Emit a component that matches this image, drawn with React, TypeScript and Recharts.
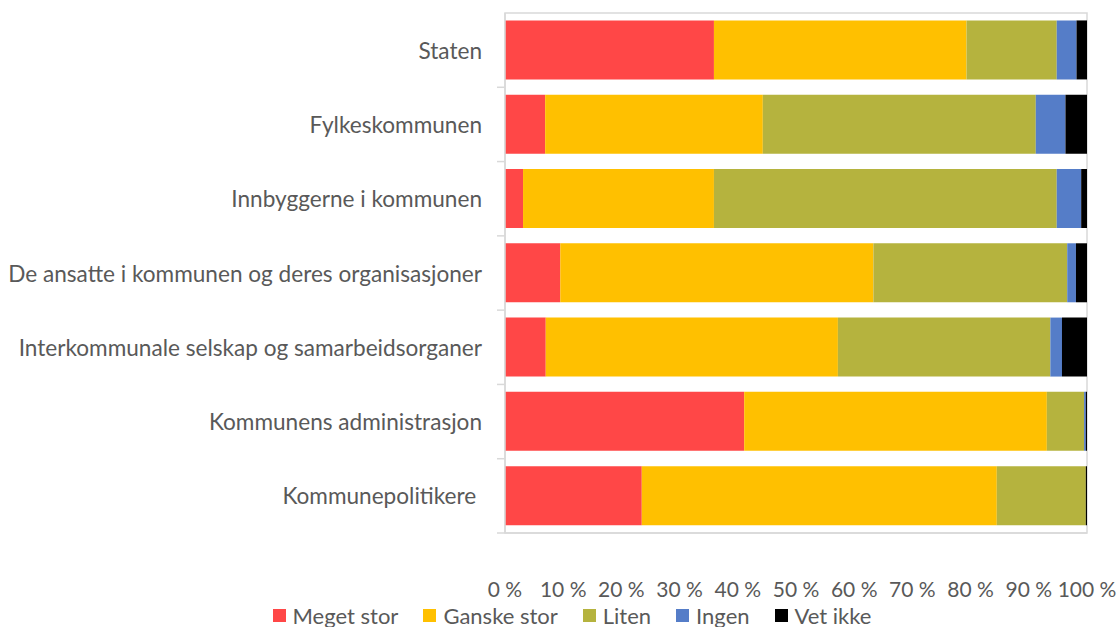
import React from 'react';
import {
  BarChart,
  Bar,
  XAxis,
  YAxis,
  Legend,
  ReferenceArea,
} from 'recharts';

document.body.style.margin = '0';

const categories = [
  'Staten',
  'Fylkeskommunen',
  'Innbyggerne i kommunen',
  'De ansatte i kommunen og deres organisasjoner',
  'Interkommunale selskap og samarbeidsorganer',
  'Kommunens administrasjon',
  'Kommunepolitikere\u00a0',
];

// share of answers (%) per category
const megetStor = [35.9, 6.9, 3.1, 9.5, 7.0, 41.1, 23.5];
const ganskeStor = [43.4, 37.4, 32.8, 53.8, 50.2, 52.0, 61.0];
const liten = [15.5, 46.9, 58.9, 33.3, 36.5, 6.4, 15.3];
const ingen = [3.4, 5.1, 4.2, 1.5, 2.0, 0.3, 0.0];
const vetIkke = [1.8, 3.7, 1.0, 1.9, 4.3, 0.2, 0.2];

const xTicks = [0, 10, 20, 30, 40, 50, 60, 70, 80, 90, 100];

const series = [
  { key: 'megetStor', name: 'Meget stor', color: '#FF4747' },
  { key: 'ganskeStor', name: 'Ganske stor', color: '#FFC000' },
  { key: 'liten', name: 'Liten', color: '#B5B33E' },
  { key: 'ingen', name: 'Ingen', color: '#557DC8' },
  { key: 'vetIkke', name: 'Vet ikke', color: '#000000' },
];

const data = categories.map((name, i) => ({
  name,
  megetStor: megetStor[i],
  ganskeStor: ganskeStor[i],
  liten: liten[i],
  ingen: ingen[i],
  vetIkke: vetIkke[i],
}));

const FONT = 'Lato, "Liberation Sans", sans-serif';
const TEXT = '#595959';
const AXIS = '#D9D9D9';

const W = 1120;
const H = 627;
const TOP = 13;
const PLOT_H = 520;
const BAND = PLOT_H / categories.length;

const YTick = (props: any) => {
  const { x, y, payload } = props;
  return (
    <g>
      <text
        x={x - 23}
        y={y}
        textAnchor="end"
        dominantBaseline="central"
        fill={TEXT}
        fontSize={22.6}
        fontFamily={FONT}
      >
        {payload.value}
      </text>
      <line x1={x - 8} x2={x} y1={y + BAND / 2} y2={y + BAND / 2} stroke={AXIS} strokeWidth={1.5} />
    </g>
  );
};

const LegendContent = () => (
  <div
    style={{
      display: 'flex',
      justifyContent: 'center',
      alignItems: 'center',
      height: 24,
      fontFamily: FONT,
      fontSize: 22,
      color: TEXT,
      paddingLeft: 82,
    }}
  >
    {series.map((s) => (
      <div key={s.key} style={{ display: 'flex', alignItems: 'center', marginRight: 25 }}>
        <span style={{ width: 13, height: 13, background: s.color, display: 'inline-block', marginRight: 7 }} />
        <span>{s.name}</span>
      </div>
    ))}
  </div>
);

export default function App() {
  return (
    <div style={{ width: W, height: H, background: '#fff' }}>
      <BarChart
        width={W}
        height={H}
        data={data}
        layout="vertical"
        barCategoryGap="10%"
        margin={{ top: TOP, right: 33, left: 0, bottom: 0 }}
      >
        <ReferenceArea x1={0} x2={100} fill="none" stroke={AXIS} strokeWidth={1.5} ifOverflow="visible" />
        <XAxis
          type="number"
          domain={[0, 100]}
          ticks={xTicks}
          interval={0}
          tickFormatter={(v: number) => `${v} %`}
          tickLine={false}
          tickSize={0}
          tickMargin={49}
          height={70}
          axisLine={{ stroke: AXIS, strokeWidth: 1.5 }}
          tick={{ fill: TEXT, fontSize: 21, fontFamily: FONT }}
        />
        <YAxis
          type="category"
          dataKey="name"
          width={505}
          interval={0}
          tickLine={false}
          tickSize={0}
          tickMargin={0}
          axisLine={{ stroke: AXIS, strokeWidth: 1.5 }}
          tick={<YTick />}
        />
        <Legend verticalAlign="bottom" height={24} content={<LegendContent />} />
        {series.map((s) => (
          <Bar
            key={s.key}
            dataKey={s.key}
            name={s.name}
            stackId="a"
            fill={s.color}
            isAnimationActive={false}
          />
        ))}
      </BarChart>
    </div>
  );
}
